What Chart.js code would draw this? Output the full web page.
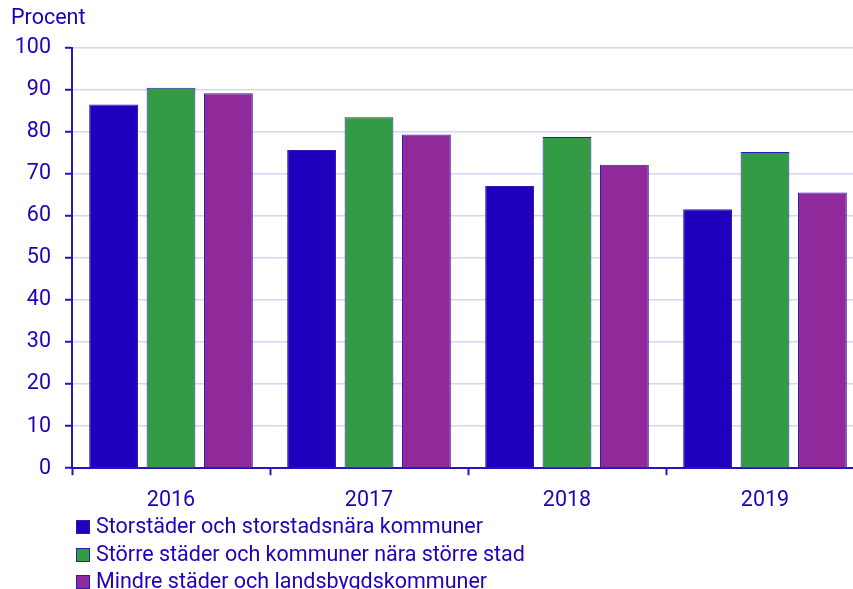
<!DOCTYPE html>
<html>
<head>
<meta charset="utf-8">
<script src="https://cdn.jsdelivr.net/npm/chart.js@4"></script>
<style>
  html, body { margin: 0; padding: 0; background: #fff; }
  #wrap { position: relative; width: 853px; height: 589px; overflow: hidden; }
  #box { position: absolute; left: 0; top: 0; width: 880px; height: 589px; }
  #legend { position: absolute; left: 76px; top: 512px; font-family: Roboto, sans-serif; font-size: 21.5px; color: #2200bb; }
  #legend div { height: 27.5px; line-height: 27.5px; white-space: nowrap; }
  #legend span { display: inline-block; width: 12px; height: 12px; border: 1px solid #2a1ab8; margin-right: 6px; vertical-align: -1px; }
</style>
</head>
<body>
<div id="wrap">
  <div id="box"><canvas id="graph" width="880" height="589"></canvas></div>
  <div id="legend"></div>
</div>
<script>
const years = ['2016', '2017', '2018', '2019'];
const storstader = [86.5, 75.7, 67.1, 61.6];
const storreStader = [90.5, 83.5, 78.8, 75.2];
const mindreStader = [89.2, 79.4, 72.2, 65.6];
const seriesNames = [
  'Storstäder och storstadsnära kommuner',
  'Större städer och kommuner nära större stad',
  'Mindre städer och landsbygdskommuner'
];
const seriesColors = ['#2000bc', '#339a46', '#902a9a'];

const textColor = '#2200bb';
const axisColor = '#2a12c0';
const fontSize = 21.5;

const graph = document.getElementById('graph').getContext('2d');

let data_graph = {
  labels: years,
  datasets: [storstader, storreStader, mindreStader].map((vals, i) => ({
    label: seriesNames[i],
    data: vals,
    backgroundColor: seriesColors[i],
    borderColor: '#2a1ab8',
    borderWidth: 1,
    categoryPercentage: 0.87,
    barPercentage: 0.85
  }))
};

let config_graph = {
  type: 'bar',
  data: data_graph,
  options: {
    responsive: false,
    animation: false,
    layout: { padding: { left: 11, right: 16, top: 0, bottom: 62 } },
    plugins: {
      legend: { display: false },
      tooltip: { enabled: false },
      title: {
        display: true,
        text: 'Procent',
        align: 'start',
        color: textColor,
        font: { family: 'Roboto', size: fontSize, weight: 'normal' },
        padding: { top: 6, bottom: 16 }
      }
    },
    scales: {
      x: {
        grid: {
          offset: true,
          drawOnChartArea: false,
          tickLength: 7,
          tickColor: axisColor,
          tickWidth: 2
        },
        border: { color: axisColor, width: 2 },
        ticks: {
          color: textColor,
          font: { family: 'Roboto', size: fontSize },
          padding: 13
        }
      },
      y: {
        min: 0,
        max: 100,
        afterFit: (s) => { s.width = 61; },
        grid: {
          color: 'rgba(60,40,200,0.2)',
          lineWidth: 1.5,
          tickLength: 7,
          tickColor: axisColor,
          tickWidth: 2
        },
        border: { color: axisColor, width: 2 },
        ticks: {
          stepSize: 10,
          color: textColor,
          font: { family: 'Roboto', size: fontSize },
          padding: 14
        }
      }
    }
  }
};

let graph1 = new Chart(graph, config_graph);

// legend, one series per row
const legend = document.getElementById('legend');
data_graph.datasets.forEach(ds => {
  let row = document.createElement('div');
  let sw = document.createElement('span');
  sw.style.background = ds.backgroundColor;
  row.appendChild(sw);
  row.appendChild(document.createTextNode(ds.label));
  legend.appendChild(row);
});
</script>
</body>
</html>
